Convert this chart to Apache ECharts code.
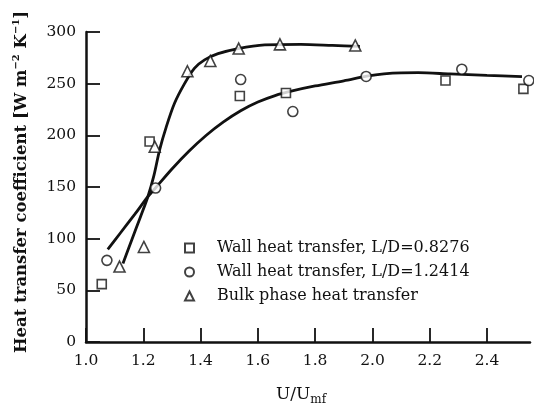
<!DOCTYPE html>
<html>
<head>
<meta charset="utf-8">
<script src="https://cdn.jsdelivr.net/npm/echarts@6/dist/echarts.min.js"></script>
<style>
  html, body { margin: 0; padding: 0; background: #fff; }
  #chart { width: 534px; height: 409px; }
</style>
</head>
<body>
<div id="chart"></div>
<script>
// Wall heat transfer, L/D = 0.8276 (squares)
const wallShortX = [1.055, 1.222, 1.537, 1.698, 2.255, 2.527];
const wallShortY = [56, 194, 238, 241, 253, 245];

// Wall heat transfer, L/D = 1.2414 (circles)
const wallLongX = [1.073, 1.243, 1.540, 1.722, 1.978, 2.312, 2.546];
const wallLongY = [79, 149, 254, 223, 257, 264, 253];

// Bulk phase heat transfer (triangles)
const bulkX = [1.117, 1.202, 1.240, 1.354, 1.434, 1.533, 1.677, 1.940];
const bulkY = [73, 92, 189, 262, 272, 284, 288, 287];

// Hand-drawn trend curve through the bulk phase data
const bulkCurveX = [1.129, 1.160, 1.190, 1.216, 1.237, 1.257, 1.280, 1.309, 1.344, 1.379, 1.414, 1.461, 1.531, 1.624, 1.750, 1.860, 1.956];
const bulkCurveY = [76, 99, 121, 140.6, 161, 186, 208, 231, 250, 265, 273, 279, 284, 287.5, 288, 287, 286];

// Trend curve through the wall data
const wallCurveX = [1.076, 1.120, 1.170, 1.216, 1.244, 1.300, 1.360, 1.420, 1.480, 1.540, 1.600, 1.660, 1.720, 1.800, 1.900, 1.980, 2.040, 2.100, 2.160, 2.270, 2.400, 2.522];
const wallCurveY = [89.7, 105.5, 123.5, 140.6, 149.5, 167.4, 184.8, 200.1, 213, 223.8, 232.2, 238.5, 243, 247.8, 252.8, 257.2, 259.5, 260.5, 260.6, 259.4, 258, 256.8];

// Axis ticks
const xTicks = [1.0, 1.2, 1.4, 1.6, 1.8, 2.0, 2.2, 2.4];
const yTicks = [0, 50, 100, 150, 200, 250, 300];

const seriesNames = [
  'Wall heat transfer, L/D=0.8276',
  'Wall heat transfer, L/D=1.2414',
  'Bulk phase heat transfer'
];

const pairs = (xs, ys) => xs.map((x, i) => [x, ys[i]]);

const FONT = 'DejaVu Serif';
const INK = '#111';

const markerStyle = { color: '#fff', borderColor: INK, borderWidth: 1.6 };
const curveStyle = { color: INK, width: 2.8 };

const chart = echarts.init(document.getElementById('chart'), null, { renderer: 'canvas' });

chart.setOption({
  animation: false,
  backgroundColor: '#fff',
  grid: { left: 86, right: 4, top: 32, bottom: 67, containLabel: false, outerBoundsMode: 'none' },
  legend: {
    data: seriesNames,
    orient: 'vertical',
    left: 184,
    top: 240,
    padding: 0,
    itemWidth: 9,
    itemHeight: 9,
    itemGap: 8,
    selectedMode: false,
    textStyle: {
      fontFamily: FONT,
      fontSize: 16,
      color: INK,
      lineHeight: 16,
      padding: [0, 0, 0, 18]
    }
  },
  xAxis: {
    type: 'value',
    min: 1.0,
    max: 2.55,
    interval: 0.2,
    name: '{u|U/U}{m|mf}',
    nameLocation: 'middle',
    nameGap: 42,
    nameTextStyle: {
      padding: [0, 14, 0, 0],
      rich: {
        u: { fontFamily: FONT, fontSize: 17, color: INK, lineHeight: 22, verticalAlign: 'middle' },
        m: { fontFamily: FONT, fontSize: 12, color: INK, lineHeight: 12, verticalAlign: 'bottom' }
      }
    },
    axisLine: { lineStyle: { color: INK, width: 2.5 } },
    axisTick: { inside: true, length: 14, customValues: xTicks, lineStyle: { color: INK, width: 1.8 } },
    axisLabel: {
      customValues: xTicks,
      margin: 11,
      fontFamily: FONT,
      fontSize: 15.5,
      color: INK,
      formatter: v => v.toFixed(1)
    },
    splitLine: { show: false }
  },
  yAxis: {
    type: 'value',
    min: 0,
    max: 300,
    interval: 50,
    name: '{t|Heat transfer coefficient [W m}{s|\u22122}{t| K}{s|\u22121}{t|]}',
    nameLocation: 'middle',
    nameRotate: 90,
    nameGap: 53,
    nameTextStyle: {
      padding: [0, 0, 0, 10],
      rich: {
        t: { fontFamily: FONT, fontSize: 16.5, fontWeight: 'bold', color: INK, lineHeight: 22, verticalAlign: 'middle' },
        s: { fontFamily: FONT, fontSize: 10, fontWeight: 'bold', color: INK, lineHeight: 10, verticalAlign: 'top' }
      }
    },
    axisLine: { show: true, lineStyle: { color: INK, width: 2.5 } },
    axisTick: { inside: true, length: 14, lineStyle: { color: INK, width: 1.8 } },
    axisLabel: {
      customValues: yTicks,
      margin: 10,
      fontFamily: FONT,
      fontSize: 15.5,
      color: INK
    },
    splitLine: { show: false }
  },
  series: [
    {
      name: 'bulkCurve',
      type: 'line',
      data: pairs(bulkCurveX, bulkCurveY),
      smooth: 0.3,
      showSymbol: false,
      lineStyle: curveStyle,
      itemStyle: { color: INK },
      z: 2,
      silent: true
    },
    {
      name: 'wallCurve',
      type: 'line',
      data: pairs(wallCurveX, wallCurveY),
      smooth: 0.3,
      showSymbol: false,
      lineStyle: curveStyle,
      itemStyle: { color: INK },
      z: 2,
      silent: true
    },
    {
      name: seriesNames[0],
      type: 'scatter',
      symbol: 'rect',
      symbolSize: 9,
      data: pairs(wallShortX, wallShortY),
      itemStyle: markerStyle,
      z: 3
    },
    {
      name: seriesNames[1],
      type: 'scatter',
      symbol: 'circle',
      symbolSize: 10,
      data: pairs(wallLongX, wallLongY),
      itemStyle: markerStyle,
      z: 3
    },
    {
      name: seriesNames[2],
      type: 'scatter',
      symbol: 'triangle',
      symbolSize: 11,
      data: pairs(bulkX, bulkY),
      itemStyle: markerStyle,
      z: 3
    }
  ]
});
</script>
</body>
</html>
